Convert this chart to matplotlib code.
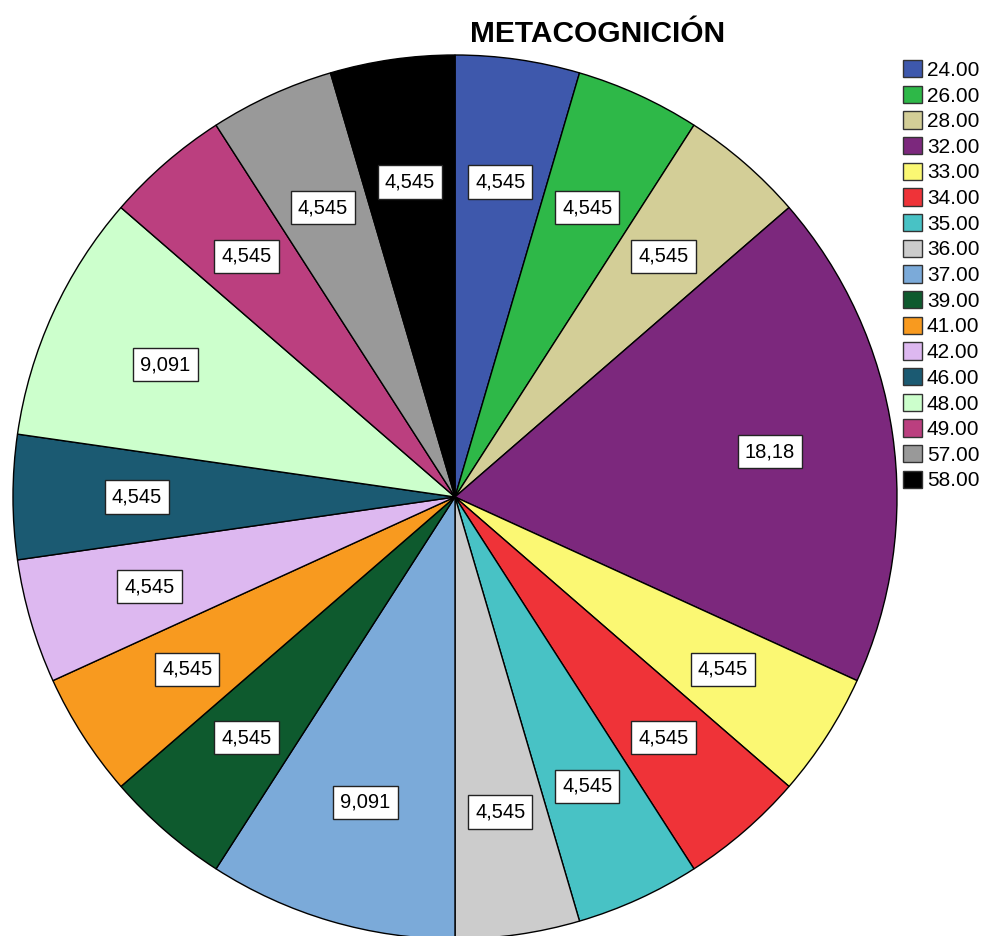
import numpy as np
import matplotlib.pyplot as plt
from matplotlib.patches import Patch

plt.rcParams['font.family'] = ['Liberation Sans', 'DejaVu Sans']

# Frequencies of METACOGNICIÓN scores (n = 22)
categories = ['24.00', '26.00', '28.00', '32.00', '33.00', '34.00', '35.00', '36.00',
              '37.00', '39.00', '41.00', '42.00', '46.00', '48.00', '49.00', '57.00', '58.00']
counts = [1, 1, 1, 4, 1, 1, 1, 1, 2, 1, 1, 1, 1, 2, 1, 1, 1]
pct_labels = ['4,545', '4,545', '4,545', '18,18', '4,545', '4,545', '4,545', '4,545',
              '9,091', '4,545', '4,545', '4,545', '4,545', '9,091', '4,545', '4,545', '4,545']

colors = ['#3E58AC', '#2EB848', '#D3CE97', '#7C287D', '#FBF873', '#EF3338', '#48C2C5',
          '#CCCCCC', '#7BAAD9', '#0E5A2E', '#F89A1F', '#DDB8F0', '#1B5A72', '#CCFFCC',
          '#BB3F7F', '#999999', '#000000']

W, H = 982, 936
fig = plt.figure(figsize=(W / 100, H / 100), dpi=100)

# pie centre (455, 497) px, radius 442 px
cx, cy, r = 455, 497, 442
ax = fig.add_axes([(cx - r) / W, (H - cy - r) / H, 2 * r / W, 2 * r / H])

wedges, _ = ax.pie(counts, colors=colors, startangle=90, counterclock=False,
                   wedgeprops=dict(edgecolor='black', linewidth=1))
ax.set_xlim(-1, 1)
ax.set_ylim(-1, 1)
ax.set_aspect('equal')
ax.axis('off')

for w, lab in zip(wedges, pct_labels):
    ang = np.deg2rad((w.theta1 + w.theta2) / 2)
    d = 0.72
    ax.text(d * np.cos(ang), d * np.sin(ang), lab, ha='center', va='center',
            fontsize=14.5, color='black',
            bbox=dict(boxstyle='square,pad=0.35', facecolor='white',
                      edgecolor='#222222', linewidth=1))

fig.text(598 / W, 1 - 42 / H, 'METACOGNICIÓN', ha='center', va='baseline',
         fontsize=21.5, fontweight='bold')

handles = [Patch(facecolor=c, edgecolor='#333333', linewidth=1) for c in colors]
fig.legend(handles, categories, loc='upper left', bbox_to_anchor=(903 / W, 1 - 60 / H),
           frameon=False, fontsize=15, handlelength=0.9, handleheight=0.9,
           handletextpad=0.25, labelspacing=0.28, borderpad=0, borderaxespad=0)

fig.savefig('out.png', dpi=100)
